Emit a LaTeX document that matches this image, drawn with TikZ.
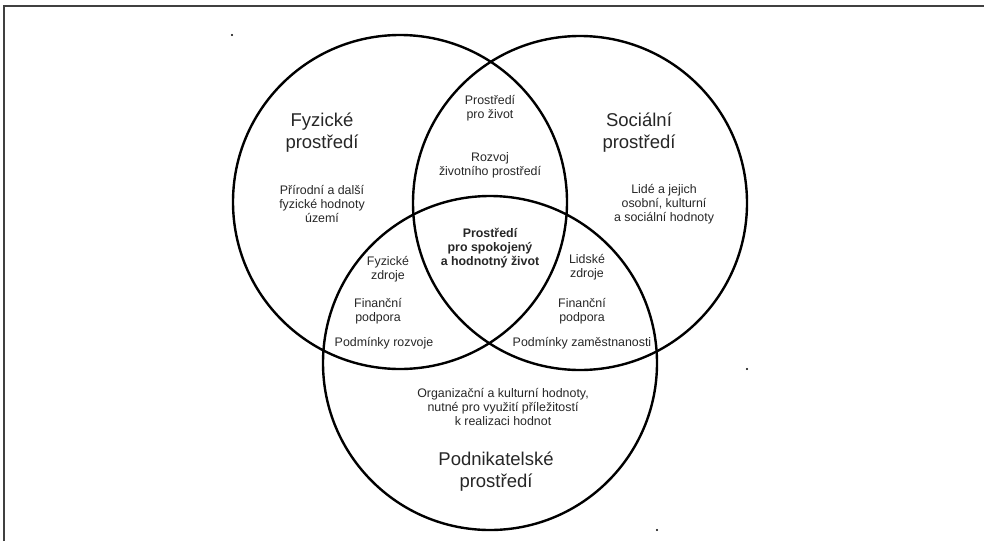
\documentclass[tikz,border=0pt]{standalone}
\usepackage{fontspec}
\setmainfont{Liberation Sans}

\begin{document}
\begin{tikzpicture}[x=1pt, y=-1pt,
  ring/.style={circle, draw, line width=2.4pt, minimum size=334pt, inner sep=0pt},
  small/.style={align=center, text=black!85, inner sep=0pt, font=\fontsize{12.4}{14}\selectfont},
  big/.style={align=center, text=black!85, inner sep=0pt, font=\fontsize{18.5}{22}\selectfont},
  core/.style={small, font=\fontsize{12.4}{14}\selectfont\bfseries}]
\useasboundingbox (0,0) rectangle (984,541);

% Frame
\draw[line width=2pt, black!75] (4,541) -- (4,6) -- (984,6);

% Circles
\node[ring] (fyz) at (400,202) {};
\node[ring] (soc) at (580,203) {};
\node[ring] (pod) at (490,363) {};

% Circle titles
\node[big] (tfyz) at (322,133) {Fyzické\\prostředí};
\node[big] (tsoc) at (639,133) {Sociální\\prostředí};
\node[big] (tpod) at (496,472) {Podnikatelské\\prostředí};

% Values
\node[small] (vfyz) at (322,204) {Přírodní a další\\fyzické hodnoty\\území};
\node[small] (vsoc) at (664,204) {Lidé a jejich\\osobní, kulturní\\a sociální hodnoty};
\node[small] (vpod) at (503,407) {Organizační a kulturní hodnoty,\\nutné pro využití příležitostí\\k realizaci hodnot};

% Overlaps
\node[small] (zivot) at (490,108) {Prostředí\\pro život};
\node[small] (rozvoj) at (490,165) {Rozvoj\\životního prostředí};
\node[core] (stred) at (490,248) {Prostředí\\pro spokojený\\a hodnotný život};
\node[small] (fzdroje) at (388,269) {Fyzické\\zdroje};
\node[small] (ffin) at (378,311) {Finanční\\podpora};
\node[small] (frozv) at (384,343) {Podmínky rozvoje};
\node[small] (lzdroje) at (587,267) {Lidské\\zdroje};
\node[small] (lfin) at (582,311) {Finanční\\podpora};
\node[small] (lzam) at (582,343) {Podmínky zaměstnanosti};

% Stray dots
\fill (232,35) circle (1.2);
\fill (747,369) circle (1.2);
\fill (657,530) circle (1.2);
\end{tikzpicture}
\end{document}
